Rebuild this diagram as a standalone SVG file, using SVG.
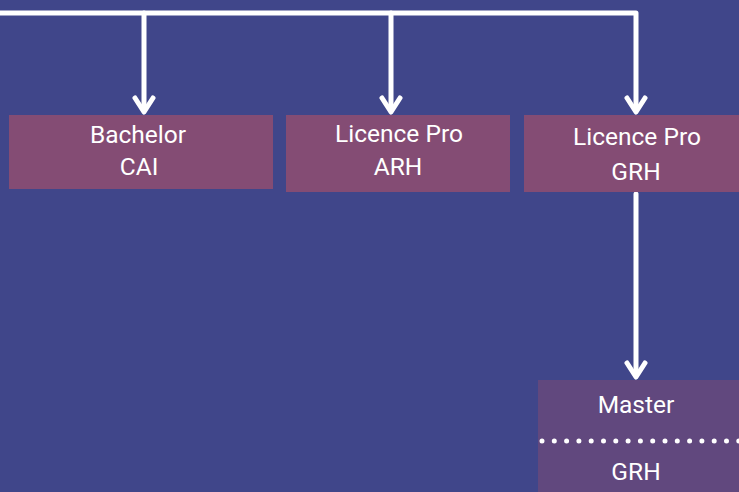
<svg xmlns="http://www.w3.org/2000/svg" width="739" height="492" viewBox="0 0 739 492">
<style>
.bg{fill:#40468a}
.box{fill:#844c74}
.mbox{fill:#61487e}
.t{font-family:Roboto,"Liberation Sans",sans-serif;font-size:24.5px;fill:#ffffff;text-anchor:middle}
.ln{fill:none;stroke:#ffffff;stroke-width:5;stroke-linejoin:round;stroke-linecap:round}
.ah{fill:none;stroke:#ffffff;stroke-width:5;stroke-linecap:round;stroke-linejoin:round}
</style>
<rect class="bg" x="0" y="0" width="739" height="492"/>
<g id="connectors">
<path class="ln" d="M-5 13 H636 V110"/>
<path class="ln" d="M144 13 V110"/>
<path class="ln" d="M391 13 V110"/>
<path class="ln" d="M636 194 V375"/>
<path class="ah" d="M135 98 L144 112 L153 98"/>
<path class="ah" d="M382 98 L391 112 L400 98"/>
<path class="ah" d="M627 98 L636 112 L645 98"/>
<path class="ah" d="M627 363 L636 377 L645 363"/>
</g>
<g id="bachelor-cai">
<rect class="box" x="9" y="115" width="264" height="74"/>
<text class="t" x="138" y="143">Bachelor</text>
<text class="t" x="139" y="175">CAI</text>
</g>
<g id="licence-pro-arh">
<rect class="box" x="286" y="115" width="224" height="77"/>
<text class="t" x="399" y="142">Licence Pro</text>
<text class="t" x="398" y="175">ARH</text>
</g>
<g id="licence-pro-grh">
<rect class="box" x="524" y="115" width="220" height="77"/>
<text class="t" x="637" y="145">Licence Pro</text>
<text class="t" x="636" y="180">GRH</text>
</g>
<g id="master-grh">
<rect class="mbox" x="538" y="380" width="206" height="117"/>
<text class="t" x="636" y="413">Master</text>
<line x1="542" y1="441" x2="739" y2="441" stroke="#ffffff" stroke-width="5" stroke-linecap="round" stroke-dasharray="0 12.3"/>
<text class="t" x="636" y="480">GRH</text>
</g>
</svg>
